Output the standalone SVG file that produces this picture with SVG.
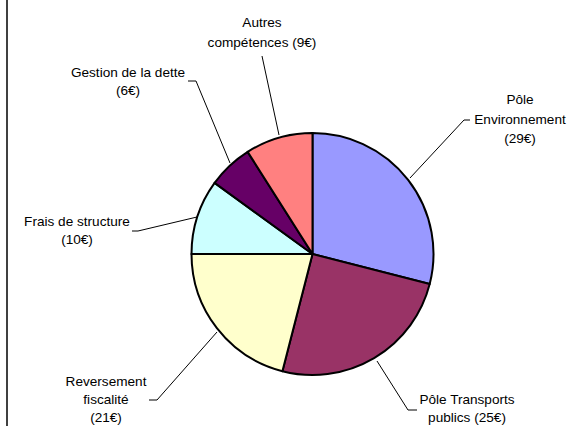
<svg xmlns="http://www.w3.org/2000/svg" width="571" height="426" viewBox="0 0 571 426">
<style>
.s{stroke:#000;stroke-width:2;stroke-linejoin:round}
.l{fill:none;stroke:#000;stroke-width:1}
text{font-family:"Liberation Sans",Arial,sans-serif;font-size:13.6px;fill:#000;text-anchor:middle}
</style>
<rect width="571" height="426" fill="#fff"/>
<line x1="7" y1="0" x2="7" y2="426" stroke="#000" stroke-width="1.5"/>
<g id="slices">
<g id="env"><path class="s" fill="#9999FF" d="M312.5,254 L312.5,133 A121,121 0 0 1 429.7,284.09 Z"/></g>
<g id="transports"><path class="s" fill="#993366" d="M312.5,254 L429.7,284.09 A121,121 0 0 1 282.41,371.2 Z"/></g>
<g id="reversement"><path class="s" fill="#FFFFCC" d="M312.5,254 L282.41,371.2 A121,121 0 0 1 191.5,254 Z"/></g>
<g id="frais"><path class="s" fill="#CCFFFF" d="M312.5,254 L191.5,254 A121,121 0 0 1 214.61,182.88 Z"/></g>
<g id="gestion"><path class="s" fill="#660066" d="M312.5,254 L214.61,182.88 A121,121 0 0 1 247.66,151.84 Z"/></g>
<g id="autres"><path class="s" fill="#FF8080" d="M312.5,254 L247.66,151.84 A121,121 0 0 1 312.5,133 Z"/></g>
</g>
<g id="connectors">
<polyline class="l" points="410,178 464,120 470,120"/>
<polyline class="l" points="377,361 408,410 417,410"/>
<polyline class="l" points="217,332 157,400 149,400"/>
<polyline class="l" points="197,217 138,231 132,231"/>
<polyline class="l" points="188,81 196,81 230,163"/>
<polyline class="l" points="262,56 279,135"/>
</g>
<g id="label-env"><text x="520" y="104">Pôle</text><text x="520" y="124">Environnement</text><text x="520" y="143">(29€)</text></g>
<g id="label-transports"><text x="467" y="404">Pôle Transports</text><text x="467" y="422">publics (25€)</text></g>
<g id="label-reversement"><text x="106" y="386">Reversement</text><text x="106" y="404">fiscalité</text><text x="106" y="422">(21€)</text></g>
<g id="label-frais"><text x="77" y="226">Frais de structure</text><text x="77" y="244">(10€)</text></g>
<g id="label-gestion"><text x="128" y="77">Gestion de la dette</text><text x="128" y="95">(6€)</text></g>
<g id="label-autres"><text x="262" y="27">Autres</text><text x="262" y="47">compétences (9€)</text></g>
</svg>
